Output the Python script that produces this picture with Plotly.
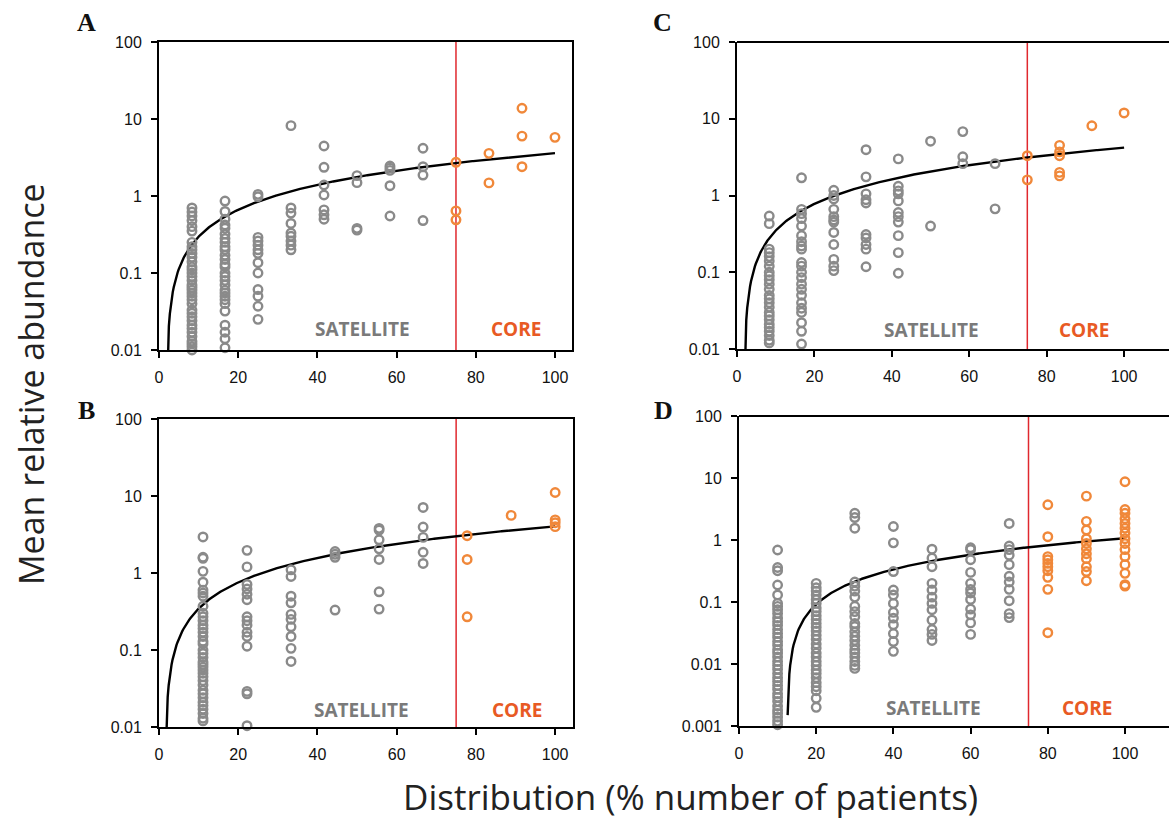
import numpy as np
import plotly.graph_objects as go

# ---------------- data ----------------
# Panel A (12 patients)
A_sat_x = ([8.33] * 36 + [16.67] * 28 + [25] * 13 + [33.33] * 9 + [41.67] * 7
           + [50] * 4 + [58.33] * 5 + [66.67] * 4)
A_sat_y = ([0.7, 0.62, 0.55, 0.48, 0.4, 0.35, 0.25, 0.22, 0.2, 0.18, 0.16, 0.14, 0.12, 0.11,
            0.1, 0.09, 0.08, 0.07, 0.065, 0.06, 0.055, 0.05, 0.045, 0.04, 0.033, 0.03, 0.027,
            0.024, 0.021, 0.019, 0.017, 0.015, 0.013, 0.012, 0.011, 0.01]
           + [0.86, 0.63, 0.5, 0.42, 0.38, 0.32, 0.28, 0.25, 0.22, 0.2, 0.17, 0.15, 0.13, 0.12,
              0.1, 0.09, 0.08, 0.07, 0.06, 0.055, 0.05, 0.045, 0.04, 0.032, 0.021, 0.017, 0.014, 0.0107]
           + [1.05, 0.98, 0.29, 0.26, 0.23, 0.2, 0.18, 0.136, 0.1, 0.061, 0.05, 0.037, 0.025]
           + [8.2, 0.7, 0.6, 0.44, 0.33, 0.3, 0.26, 0.23, 0.2]
           + [4.46, 2.36, 1.39, 1.03, 0.66, 0.57, 0.5]
           + [1.84, 1.49, 0.38, 0.36]
           + [2.45, 2.3, 2.15, 1.36, 0.55]
           + [4.17, 2.4, 1.87, 0.48])
A_core_x = [75, 75, 75, 83.33, 83.33, 91.67, 91.67, 91.67, 100]
A_core_y = [2.74, 0.64, 0.49, 3.58, 1.48, 13.8, 6.0, 2.4, 5.78]

# Panel B (9 patients)
B_sat_x = ([11.11] * 38 + [22.22] * 15 + [33.33] * 10 + [44.44] * 4 + [55.56] * 7 + [66.67] * 5)
B_sat_y = ([2.94, 1.6, 1.55, 1.05, 0.76, 0.6, 0.55, 0.5, 0.37,
            0.3, 0.27, 0.24, 0.21, 0.19, 0.17, 0.15, 0.13, 0.12, 0.1, 0.09, 0.08, 0.07, 0.065,
            0.06, 0.055, 0.05, 0.045, 0.04, 0.035, 0.03, 0.027, 0.024, 0.021, 0.019, 0.017,
            0.015, 0.013, 0.012]
           + [1.97, 1.2, 0.71, 0.62, 0.53, 0.45, 0.27, 0.24, 0.21, 0.17, 0.15, 0.112, 0.029, 0.027, 0.0104]
           + [1.1, 0.9, 0.5, 0.41, 0.29, 0.25, 0.2, 0.15, 0.105, 0.071]
           + [1.9, 1.75, 1.6, 0.33]
           + [3.8, 3.6, 2.7, 2.06, 1.5, 0.57, 0.34]
           + [7.1, 3.95, 2.9, 1.86, 1.33])
B_core_x = [77.78, 77.78, 77.78, 88.89, 100, 100, 100, 100]
B_core_y = [3.05, 1.5, 0.27, 5.6, 11.1, 4.9, 4.5, 4.0]

# Panel C (12 patients)
C_sat_x = ([8.33] * 25 + [16.67] * 22 + [25] * 12 + [33.33] * 10 + [41.67] * 11
           + [50] * 2 + [58.33] * 3 + [66.67] * 2)
C_sat_y = ([0.54, 0.43, 0.2, 0.18, 0.16, 0.14, 0.12, 0.1, 0.09, 0.08, 0.07, 0.06, 0.05, 0.045,
            0.04, 0.035, 0.03, 0.027, 0.024, 0.021, 0.019, 0.017, 0.015, 0.013, 0.012]
           + [1.7, 0.66, 0.58, 0.5, 0.4, 0.3, 0.25, 0.22, 0.2, 0.134, 0.12, 0.1, 0.085, 0.07,
              0.06, 0.05, 0.04, 0.034, 0.03, 0.022, 0.017, 0.0116]
           + [1.17, 1.0, 0.9, 0.66, 0.53, 0.48, 0.45, 0.33, 0.23, 0.147, 0.12, 0.105]
           + [3.95, 1.75, 1.05, 0.88, 0.8, 0.31, 0.28, 0.23, 0.2, 0.118]
           + [3.0, 1.32, 1.15, 1.05, 0.85, 0.6, 0.53, 0.45, 0.3, 0.18, 0.097]
           + [5.1, 0.4]
           + [6.8, 3.2, 2.6]
           + [2.6, 0.67])
C_core_x = [75, 75, 83.33, 83.33, 83.33, 83.33, 83.33, 91.67, 100]
C_core_y = [3.3, 1.6, 4.5, 3.7, 3.3, 2.0, 1.8, 8.1, 11.9]

# Panel D (10 patients)
D_sat_x = ([10] * 37 + [20] * 29 + [30] * 22 + [40] * 12 + [50] * 12 + [60] * 12 + [70] * 11)
D_sat_y = ([0.69, 0.36, 0.32, 0.188, 0.13,
            0.095, 0.085, 0.075, 0.065, 0.055, 0.048, 0.042, 0.036, 0.031, 0.027, 0.023, 0.02,
            0.017, 0.015, 0.013, 0.011, 0.0095, 0.0082, 0.007, 0.006, 0.0052, 0.0045, 0.0039,
            0.0033, 0.0029, 0.0025, 0.0021, 0.0018, 0.0016, 0.0014, 0.0012, 0.00105]
           + [0.2, 0.17, 0.15, 0.13, 0.11, 0.095, 0.08, 0.07, 0.06, 0.052, 0.045, 0.039, 0.034,
              0.029, 0.025, 0.021, 0.018, 0.015, 0.013, 0.011, 0.0095, 0.008, 0.007, 0.006,
              0.005, 0.0043, 0.0037, 0.0028, 0.002]
           + [2.7, 2.3, 1.55, 0.21, 0.18, 0.15, 0.12, 0.085, 0.07, 0.058, 0.045, 0.04, 0.033,
              0.028, 0.024, 0.02, 0.017, 0.015, 0.013, 0.011, 0.0095, 0.0085]
           + [1.65, 0.9, 0.31, 0.156, 0.13, 0.095, 0.068, 0.055, 0.043, 0.031, 0.023, 0.016]
           + [0.71, 0.51, 0.37, 0.2, 0.156, 0.12, 0.095, 0.075, 0.051, 0.036, 0.03, 0.024]
           + [0.75, 0.7, 0.48, 0.3, 0.2, 0.16, 0.14, 0.11, 0.077, 0.062, 0.046, 0.03]
           + [1.85, 0.8, 0.7, 0.57, 0.4, 0.26, 0.21, 0.16, 0.105, 0.065, 0.056])
D_core_x = [80] * 10 + [90] * 11 + [100] * 15
D_core_y = ([3.7, 1.13, 0.54, 0.48, 0.42, 0.37, 0.32, 0.25, 0.16, 0.032]
            + [5.1, 2.0, 1.45, 1.05, 0.88, 0.72, 0.6, 0.5, 0.37, 0.31, 0.22]
            + [8.7, 3.1, 2.7, 2.2, 1.85, 1.55, 1.3, 1.05, 0.88, 0.7, 0.54, 0.4, 0.29, 0.19, 0.18])

# linear trend lines (slope, intercept, first x)
trend_A = (0.0367, -0.071, 2.0)
trend_B = (0.0410, -0.0654, 1.7)
trend_C = (0.0428, -0.0786, 1.9)
trend_D = (0.012225, -0.15254, 12.6)

x_ticks = [0, 20, 40, 60, 80, 100]
y_ticks_abc = [0.01, 0.1, 1, 10, 100]
y_ticks_d = [0.001, 0.01, 0.1, 1, 10, 100]
core_threshold = 75
panel_letters = ["A", "C", "B", "D"]

# ---------------- styling ----------------
W, H = 1169, 820
GRAY = "#8a8a8a"
ORANGE = "#f0883a"
RED = "#e0282e"
SAT_TXT = "#7a7a7a"
CORE_TXT = "#e85a24"


def px_dom_x(l, r):
    return [l / W, min(r / W, 1.0)]


def px_dom_y(top, bottom):
    return [1 - bottom / H, 1 - top / H]


panels = [
    ("", A_sat_x, A_sat_y, A_core_x, A_core_y, trend_A, px_dom_x(159, 572), px_dom_y(42, 350),
     [0, 104.3], y_ticks_abc, [-2, 2], 51.3, 90.2, 0.068, False),
    ("2", C_sat_x, C_sat_y, C_core_x, C_core_y, trend_C, px_dom_x(737, 1169), px_dom_y(42, 349),
     [0, 111.6], y_ticks_abc, [-2, 2], 50.3, 89.7, 0.062, True),
    ("3", B_sat_x, B_sat_y, B_core_x, B_core_y, trend_B, px_dom_x(159, 573), px_dom_y(419, 727),
     [0, 104.5], y_ticks_abc, [-2, 2], 51.2, 90.3, 0.055, False),
    ("4", D_sat_x, D_sat_y, D_core_x, D_core_y, trend_D, px_dom_x(739, 1169), px_dom_y(416, 726),
     [0, 111.4], y_ticks_d, [-3, 2], 50.5, 90.1, 0.058, True),
]

fig = go.Figure()
layout = dict(
    width=W, height=H, margin=dict(l=0, r=0, t=0, b=0, pad=0), autosize=False,
    paper_bgcolor="white", plot_bgcolor="white", showlegend=False,
    font=dict(family="Liberation Sans, Arial, sans-serif", size=16, color="#111"),
)
shapes = []
annotations = []

for (sid, sx, sy, cx, cy, trend, xd, yd, xr, yt, yr, sat_x, core_x, ann_y, clip_right) in panels:
    xa = "x" + sid
    ya = "y" + sid
    a, c, x0 = trend
    tx = np.linspace(x0, 100, 400)
    ty = a * tx + c
    ty = np.where(ty > 0, ty, np.nan)
    fig.add_trace(go.Scatter(x=tx, y=ty, mode="lines", xaxis=xa, yaxis=ya,
                             line=dict(color="black", width=2.4), hoverinfo="skip"))
    fig.add_trace(go.Scatter(x=sx, y=sy, mode="markers", xaxis=xa, yaxis=ya, cliponaxis=False,
                             marker=dict(symbol="circle-open", size=8.5, color=GRAY,
                                         line=dict(color=GRAY, width=2.4))))
    fig.add_trace(go.Scatter(x=cx, y=cy, mode="markers", xaxis=xa, yaxis=ya, cliponaxis=False,
                             marker=dict(symbol="circle-open", size=8.5, color=ORANGE,
                                         line=dict(color=ORANGE, width=2.4))))

    key_x = "xaxis" + sid
    key_y = "yaxis" + sid
    layout[key_x] = dict(
        domain=xd, range=xr, anchor=ya, showgrid=False, zeroline=False, automargin=False,
        showline=True, linecolor="black", linewidth=2, mirror=(not clip_right),
        ticks="outside", ticklen=6, tickwidth=1.5, tickcolor="black",
        tickvals=x_ticks, ticktext=[str(v) for v in x_ticks], ticklabelstandoff=6,
        tickfont=dict(size=16, color="#111"),
    )
    layout[key_y] = dict(
        domain=yd, range=yr, type="log", anchor=xa, showgrid=False, zeroline=False,
        automargin=False,
        showline=True, linecolor="black", linewidth=2, mirror=(not clip_right),
        ticks="outside", ticklen=6, tickwidth=1.5, tickcolor="black",
        tickvals=yt, ticktext=[("%g" % v) for v in yt], ticklabelstandoff=6,
        tickfont=dict(size=16, color="#111"),
    )
    if clip_right:
        shapes.append(dict(type="line", xref=xa + " domain", yref=ya + " domain",
                           x0=0, x1=1, y0=1, y1=1, line=dict(color="black", width=2)))
    shapes.append(dict(type="line", xref=xa, yref=ya + " domain", x0=core_threshold,
                       x1=core_threshold, y0=0, y1=1, layer="below",
                       line=dict(color=RED, width=1.5)))
    annotations.append(dict(text="<b>SATELLITE</b>", xref=xa, yref=ya + " domain",
                            x=sat_x, y=ann_y, showarrow=False, xanchor="center", yanchor="middle",
                            font=dict(family="Open Sans, sans-serif", size=19, color=SAT_TXT)))
    annotations.append(dict(text="<b>CORE</b>", xref=xa, yref=ya + " domain",
                            x=core_x, y=ann_y, showarrow=False, xanchor="center", yanchor="middle",
                            font=dict(family="Open Sans, sans-serif", size=19, color=CORE_TXT)))

letter_pos = [(86, 22), (662, 22), (86, 410), (663, 410)]
for letter, (lx, ly) in zip(panel_letters, letter_pos):
    annotations.append(dict(text="<b>%s</b>" % letter, xref="paper", yref="paper",
                            x=lx / W, y=1 - ly / H, showarrow=False, xanchor="center",
                            yanchor="middle",
                            font=dict(family="Liberation Serif, Times New Roman, serif",
                                      size=26, color="#111")))

annotations.append(dict(text="Mean relative abundance", xref="paper", yref="paper",
                        x=31 / W, y=1 - 384 / H, showarrow=False, textangle=-90,
                        xanchor="center", yanchor="middle",
                        font=dict(family="Open Sans, sans-serif", size=34, color="#222")))
annotations.append(dict(text="Distribution (% number of patients)", xref="paper", yref="paper",
                        x=690 / W, y=1 - 796 / H, showarrow=False,
                        xanchor="center", yanchor="middle",
                        font=dict(family="Open Sans, sans-serif", size=35, color="#222")))

layout["shapes"] = shapes
layout["annotations"] = annotations
fig.update_layout(**layout)
fig.write_html("out.html", config={"displayModeBar": False},
               post_script="document.body.style.margin='0';document.body.style.overflow='hidden';")
